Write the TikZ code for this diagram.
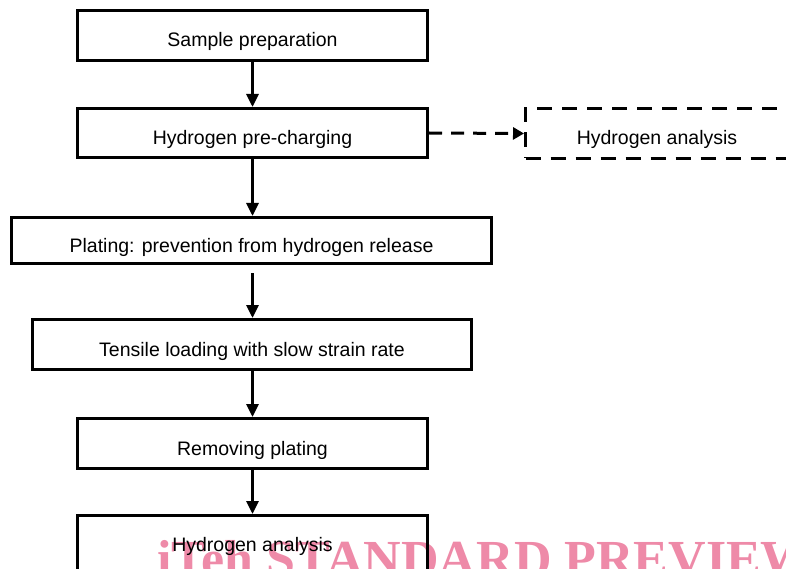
\documentclass[tikz,border=0pt]{standalone}
\usepackage{fontspec}
\setmainfont{Liberation Sans}
\newfontfamily\wmfont{Liberation Serif}
\usetikzlibrary{arrows.meta}
\definecolor{wmpink}{HTML}{EE8AA8}
\begin{document}
\begin{tikzpicture}[x=1pt,y=-1pt,
  every node/.style={font=\fontsize{19.5}{23}\selectfont},
  stepbox/.style={draw, line width=3pt, minimum width=#1, minimum height=50pt, inner sep=0pt, anchor=center, text height=23pt, text depth=0pt},
  flow/.style={line width=3pt, -{Triangle[width=12pt,length=13pt]}},
  dflow/.style={line width=3pt, dash pattern=on 13pt off 9pt, -{Triangle[width=12pt,length=11pt]}}]
\useasboundingbox (0,0) rectangle (786,569);
\begin{scope}
\clip (0,0) rectangle (786,569);
\node[anchor=base west, inner sep=0pt, text=wmpink, font=\wmfont\bfseries\fontsize{52}{60}\selectfont] (wm) at (157,576) {iTeh STANDARD PREVIEW};
\node[stepbox=350pt] (s1) at (252.5,35.5) {Sample preparation};
\node[stepbox=350pt, minimum height=49pt] (s2) at (252.5,133) {Hydrogen pre-charging};
\node[stepbox=263pt, minimum height=50pt, dash pattern=on 15pt off 10pt] (s3) at (657,133.5) {Hydrogen analysis};
\node[stepbox=480pt, minimum height=46pt] (s4) at (251.5,240.5) {Plating: prevention from hydrogen release};
\node[stepbox=439pt] (s5) at (252,344.5) {Tensile loading with slow strain rate};
\node[stepbox=350pt] (s6) at (252.5,443.5) {Removing plating};
\node[stepbox=350pt, minimum height=58pt, text height=14pt] (s7) at (252.5,544.5) {Hydrogen analysis};
\end{scope}
\draw[flow] (s1.south) -- (s2.north);
\draw[flow] (s2.south) -- (s2.south |- s4.north);
\draw[flow] ([yshift=-8pt]s4.south -| s2.south) -- (s2.south |- s5.north);
\draw[flow] (s2.south |- s5.south) -- (s6.north);
\draw[flow] (s6.south) -- (s7.north);
\draw[dflow] (s2.east) -- (s3.west);
\end{tikzpicture}
\end{document}
